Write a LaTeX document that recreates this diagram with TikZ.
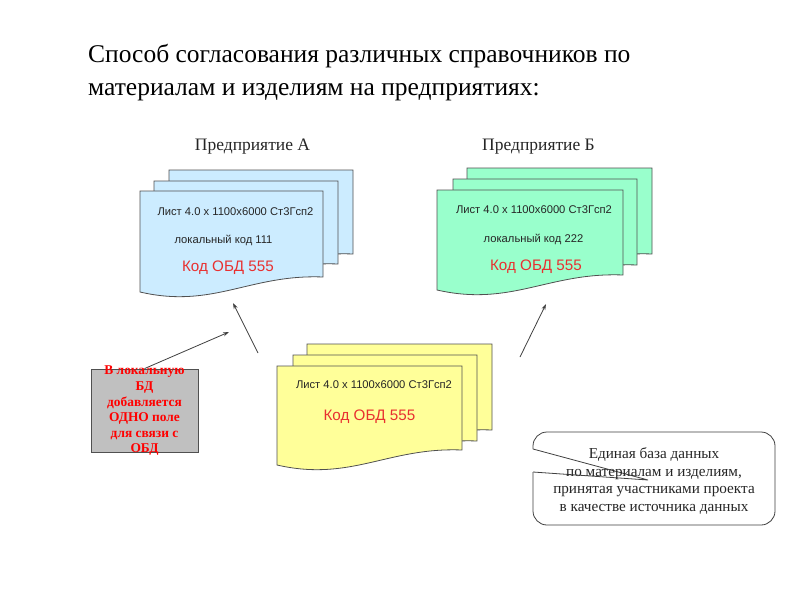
\documentclass[tikz,border=0pt]{standalone}
\usepackage{fontspec}
\setmainfont{Liberation Serif}
\newfontfamily\arialf{Liberation Sans}
\usetikzlibrary{arrows.meta}
\definecolor{blueA}{RGB}{204,236,255}
\definecolor{greenB}{RGB}{153,255,204}
\definecolor{yellowC}{RGB}{255,255,153}
\definecolor{grayD}{RGB}{192,192,192}
\definecolor{redT}{RGB}{232,48,48}
\definecolor{edgeC}{RGB}{80,80,80}
\newcommand{\docsheet}[5]{%
  \pgfmathsetmacro\xr{#1+#3}\pgfmathsetmacro\yb{#2+#4}\pgfmathsetmacro\ybl{#2+#4+15}%
  \pgfmathsetmacro\ca{#1+0.4*#3}\pgfmathsetmacro\cb{#1+0.6*#3}%
  \pgfmathsetmacro\cay{#2+#4+32}\pgfmathsetmacro\cby{#2+#4-3}%
  \draw[sheetbox,fill=#5] (#1,#2) -- (\xr,#2) -- (\xr,\yb) .. controls (\cb,\cby) and (\ca,\cay) .. (#1,\ybl) -- cycle;}
\tikzset{
  sheetbox/.style={draw=edgeC,line width=0.8pt},
  small/.style={font=\arialf\fontsize{11.2}{13}\selectfont,text=black!85,inner sep=0pt},
  codered/.style={font=\arialf\fontsize{15.2}{17}\selectfont,text=redT,inner sep=0pt},
  lab/.style={font=\fontsize{17.5}{19}\selectfont,text=black!85,inner sep=0pt},
  arr/.style={draw=black!75,line width=0.8pt,-{Stealth[length=6pt,width=4pt]}},
}
\begin{document}
\begin{tikzpicture}[x=1pt,y=-1pt]
\useasboundingbox (0,0) rectangle (800,600);
\fill[white] (0,0) rectangle (800,600);

% title
\node[anchor=north west,align=left,inner sep=0pt,font=\fontsize{25.5}{33}\selectfont] (title) at (88,44)
  {Способ согласования различных справочников по\\материалам и изделиям на предприятиях:};

\node[lab] (labA) at (252.5,147) {Предприятие А};
\node[lab] (labB) at (538.5,147) {Предприятие Б};

% stack A
\docsheet{169}{170}{184}{84}{blueA}
\docsheet{154}{181}{184}{83}{blueA}
\docsheet{140}{191}{183}{86}{blueA}
\node[small] (a1) at (235.5,212) {Лист 4.0 х 1100х6000 Ст3Гсп2};
\node[small] (a2) at (223.5,240) {локальный код 111};
\node[codered] (a3) at (228,268) {Код ОБД 555};

% stack B
\docsheet{467}{168}{185}{86}{greenB}
\docsheet{453}{179}{184}{86}{greenB}
\docsheet{437}{190}{186}{85}{greenB}
\node[small] (b1) at (534,210) {Лист 4.0 х 1100х6000 Ст3Гсп2};
\node[small] (b2) at (533.5,239) {локальный код 222};
\node[codered] (b3) at (536,267) {Код ОБД 555};

% stack C
\docsheet{307}{344}{185}{86}{yellowC}
\docsheet{293}{355}{184}{86}{yellowC}
\docsheet{277}{366}{185}{84}{yellowC}
\node[small] (c1) at (374,385) {Лист 4.0 х 1100х6000 Ст3Гсп2};
\node[codered] (c2) at (369.5,417) {Код ОБД 555};

% gray box
\node[draw=edgeC,line width=0.8pt,fill=grayD,minimum width=107pt,minimum height=83pt,inner sep=0pt] (gbox) at (144.5,410.5) {};
\node[align=center,inner sep=0pt,text=red,font=\bfseries\fontsize{13.4}{15.6}\selectfont] (gtext) at (144.5,411)
  {В локальную\\БД\\добавляется\\ОДНО поле\\для связи с\\ОБД};

% arrows
\coordinate (t1) at (229,332);
\coordinate (s2) at (258,353);
\coordinate (t2) at (233,303);
\coordinate (s3) at (520,357);
\coordinate (t3) at (546,304);
\draw[arr] (gbox.north) -- (t1);
\draw[arr] (s2) -- (t2);
\draw[arr] (s3) -- (t3);

% callout
\draw[draw=black!75,line width=0.8pt,rounded corners=14pt] (533,449) -- (533,432) -- (775,432) -- (775,525) -- (533,525) -- (533,472);
\coordinate (ptip) at (648,480);
\coordinate (pa) at (533,449);
\coordinate (pb) at (533,472);
\draw[draw=black!75,line width=0.8pt] (pa) -- (ptip) -- (pb);
\node[align=center,inner sep=0pt,font=\fontsize{15.2}{17.7}\selectfont,text=black!85] (ctext) at (654,481)
  {Единая база данных\\по материалам и изделиям,\\принятая участниками проекта\\в качестве источника данных};
\end{tikzpicture}
\end{document}
